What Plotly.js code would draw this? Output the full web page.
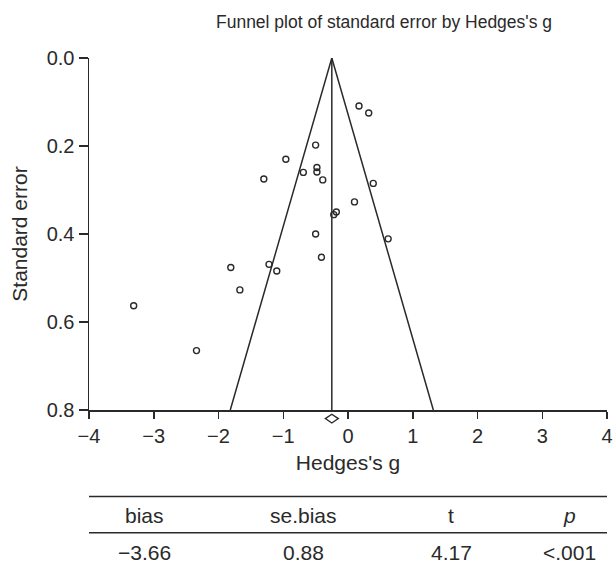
<!DOCTYPE html>
<html>
<head>
<meta charset="utf-8">
<script src="https://cdn.plot.ly/plotly-3.0.1.min.js"></script>
<style>html,body{margin:0;padding:0;background:#fff;}#chart{width:613px;height:565px;}</style>
</head>
<body>
<div id="chart"></div>
<script>
// Study effect sizes (Hedges's g) and standard errors
const studyG  = [0.17, 0.32, -0.50, -0.96, -1.30, -0.69, -0.48, -0.48, -0.39, 0.39, 0.10, -0.18, -0.22, -0.50, 0.62, -1.22, -1.10, -0.41, -1.81, -1.67, -3.31, -2.34];
const studySE = [0.109, 0.125, 0.198, 0.230, 0.275, 0.260, 0.249, 0.259, 0.277, 0.285, 0.327, 0.350, 0.356, 0.400, 0.411, 0.469, 0.484, 0.453, 0.476, 0.527, 0.563, 0.665];
const pooledG = -0.25;
const seMax = 0.8;
const zCrit = 1.96;
const xTicks = [-4, -3, -2, -1, 0, 1, 2, 3, 4];
const yTicks = [0.0, 0.2, 0.4, 0.6, 0.8];
const tableHeaders = ['bias', 'se.bias', 't', '<i>p</i>'];
const tableValues = ['\u22123.66', '0.88', '4.17', '<.001'];

const ink = '#2a2a2a';
const font = 'Liberation Sans, Arial, sans-serif';

const traces = [
  { x: [pooledG - zCrit * seMax, pooledG, pooledG + zCrit * seMax], y: [seMax, 0, seMax],
    mode: 'lines', line: { color: ink, width: 1.5 }, hoverinfo: 'skip' },
  { x: [pooledG, pooledG], y: [0, seMax],
    mode: 'lines', line: { color: ink, width: 1.5 }, hoverinfo: 'skip' },
  { x: studyG, y: studySE, mode: 'markers',
    marker: { symbol: 'circle-open', size: 6, color: ink, line: { width: 1.4, color: ink } } }
];

// pooled-estimate diamond, placed under the x axis at the pooled effect
const dHalfW = 0.1, dHalfH = 0.0125, dY = -0.0245;
const diamondPath = 'M ' + (pooledG - dHalfW) + ',' + dY + ' L ' + pooledG + ',' + (dY + dHalfH) +
  ' L ' + (pooledG + dHalfW) + ',' + dY + ' L ' + pooledG + ',' + (dY - dHalfH) + ' Z';

const colX = [0.108, 0.415, 0.699, 0.927];
const annotations = [];
tableHeaders.forEach((h, i) => annotations.push({ xref: 'paper', yref: 'paper', x: colX[i], y: -0.301, text: h, showarrow: false, xanchor: 'center', yanchor: 'middle', font: { family: font, size: 21, color: ink } }));
tableValues.forEach((v, i) => annotations.push({ xref: 'paper', yref: 'paper', x: colX[i], y: -0.406, text: v.replace('<', '&lt;'), showarrow: false, xanchor: 'center', yanchor: 'middle', font: { family: font, size: 21, color: ink } }));

const layout = {
  width: 613, height: 565,
  margin: { l: 89, r: 6, t: 58, b: 155 },
  paper_bgcolor: '#fff', plot_bgcolor: '#fff',
  showlegend: false,
  font: { family: font, color: ink },
  title: { text: "Funnel plot of standard error by Hedges's g", x: 0.5695, xref: 'paper', xanchor: 'center', y: 1 - 22 / 565, yanchor: 'middle', font: { family: font, size: 17.5, color: ink } },
  xaxis: {
    range: [-4, 4], tickvals: xTicks, ticks: 'outside', ticklen: 7, tickwidth: 1.5, tickcolor: ink,
    showline: true, linecolor: ink, linewidth: 1.5, showgrid: false, zeroline: false,
    tickfont: { family: font, size: 20, color: ink },
    title: { text: "Hedges's g", font: { family: font, size: 21, color: ink }, standoff: 10 }
  },
  yaxis: {
    range: [0.8, 0], tickvals: yTicks, tickformat: '.1f', ticks: 'outside', ticklen: 9, tickwidth: 1.5, tickcolor: ink,
    showline: true, linecolor: ink, linewidth: 1.5, showgrid: false, zeroline: false,
    tickfont: { family: font, size: 20, color: ink },
    title: { text: 'Standard error', font: { family: font, size: 21, color: ink }, standoff: 13 }
  },
  shapes: [
    { type: 'path', xref: 'x', yref: 'paper', path: diamondPath, fillcolor: '#fff', line: { color: ink, width: 1.4 } },
    { type: 'line', xref: 'paper', yref: 'paper', x0: 0, x1: 1, y0: -0.2457, y1: -0.2457, line: { color: ink, width: 1.5 } },
    { type: 'line', xref: 'paper', yref: 'paper', x0: 0, x1: 1, y0: -0.349, y1: -0.349, line: { color: ink, width: 1.5 } }
  ],
  annotations: annotations
};

Plotly.newPlot('chart', traces, layout, { displayModeBar: false, staticPlot: true });
</script>
</body>
</html>
